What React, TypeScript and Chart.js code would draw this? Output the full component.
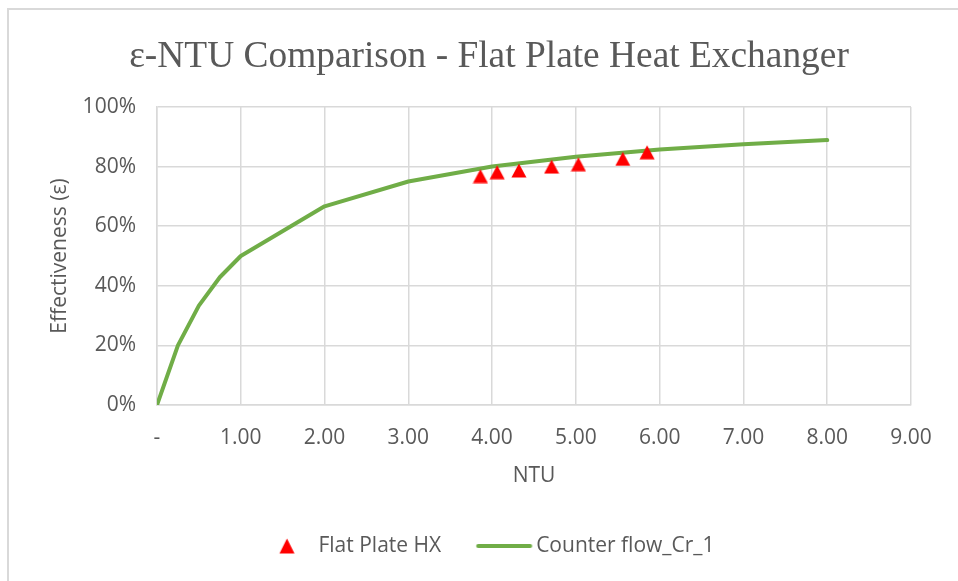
import { useEffect, useRef } from 'react';
import { Chart, registerables } from 'chart.js';

Chart.register(...registerables);

// Measured flat plate heat exchanger points
const plateNtu = [3.86, 4.06, 4.32, 4.71, 5.03, 5.56, 5.85];
const plateEffectiveness = [0.768, 0.781, 0.787, 0.8, 0.808, 0.826, 0.848];

// Counter-flow reference curve for Cr = 1
const counterNtu = [0, 0.25, 0.5, 0.75, 1, 2, 3, 4, 5, 6, 7, 8];
const counterEffectiveness = [0, 0.2, 0.3333, 0.4286, 0.5, 0.6667, 0.75, 0.8, 0.8333, 0.8571, 0.875, 0.8889];

const seriesNames = ['Flat Plate HX', 'Counter flow_Cr_1'];
const chartTitle = 'ε-NTU Comparison - Flat Plate Heat Exchanger';
const xAxisTitle = 'NTU';
const yAxisTitle = 'Effectiveness (ε)';

const xMin = 0;
const xMax = 9;
const xStep = 1;
const yMin = 0;
const yMax = 1;
const yStep = 0.2;

const TEXT = '#595959';
const GRID = '#d9d9d9';
const RED = '#ff0000';
const GREEN = '#70ad47';
const SANS = '"Open Sans", "Liberation Sans", sans-serif';

// Triangle marker painted on its own small canvas; cx sets where the apex sits.
function makeTriangle(w: number, h: number, cx: number): HTMLCanvasElement {
  const c = document.createElement('canvas');
  c.width = w;
  c.height = h;
  const g = c.getContext('2d')!;
  g.fillStyle = RED;
  g.beginPath();
  g.moveTo(cx, 0.5);
  g.lineTo(cx + 7.5, h - 0.5);
  g.lineTo(cx - 7.5, h - 0.5);
  g.closePath();
  g.fill();
  return c;
}

// Short thick line used as the legend swatch of the curve.
function makeLineSwatch(w: number, h: number, cx: number, len: number): HTMLCanvasElement {
  const c = document.createElement('canvas');
  c.width = w;
  c.height = h;
  const g = c.getContext('2d')!;
  g.strokeStyle = GREEN;
  g.lineWidth = 4;
  g.lineCap = 'round';
  g.beginPath();
  g.moveTo(cx - len / 2 + 2, h / 2);
  g.lineTo(cx + len / 2 - 2, h / 2);
  g.stroke();
  return c;
}

export default function App() {
  const canvasRef = useRef<HTMLCanvasElement>(null);

  useEffect(() => {
    const canvas = canvasRef.current;
    if (!canvas) return;

    const marker = makeTriangle(16, 15, 8);
    const legendMarker = makeTriangle(40, 16, 21.25);
    const legendLine = makeLineSwatch(100, 8, 50.75, 56);

    const tickFont = { family: SANS, size: 21 };

    const chart = new Chart(canvas, {
      type: 'scatter',
      data: {
        datasets: [
          {
            label: seriesNames[0],
            data: plateNtu.map((x, i) => ({ x, y: plateEffectiveness[i] })),
            pointStyle: marker,
            pointRadius: 8,
            pointHoverRadius: 8,
            backgroundColor: RED,
            borderColor: RED,
            showLine: false,
          },
          {
            label: seriesNames[1],
            data: counterNtu.map((x, i) => ({ x, y: counterEffectiveness[i] })),
            showLine: true,
            borderColor: GREEN,
            backgroundColor: GREEN,
            borderWidth: 4,
            borderCapStyle: 'round',
            borderJoinStyle: 'round',
            pointRadius: 0,
            pointHoverRadius: 0,
            tension: 0,
          },
        ],
      },
      options: {
        responsive: false,
        animation: false,
        devicePixelRatio: 1,
        layout: { padding: { left: 20, right: 0, top: 0, bottom: 14.5 } },
        plugins: {
          title: {
            display: true,
            text: chartTitle,
            color: TEXT,
            font: { family: '"Liberation Serif", "Times New Roman", serif', size: 37.4, weight: 'normal' },
            padding: { top: 34.5, bottom: 27.6 },
          },
          legend: {
            position: 'bottom',
            labels: {
              usePointStyle: true,
              pointStyleWidth: 44.5,
              boxHeight: 21,
              padding: 40,
              color: TEXT,
              font: { family: SANS, size: 21 },
              generateLabels: () => [
                {
                  text: seriesNames[0],
                  pointStyle: legendMarker,
                  fillStyle: RED,
                  strokeStyle: RED,
                  lineWidth: 0,
                  fontColor: TEXT,
                  hidden: false,
                  datasetIndex: 0,
                },
                {
                  text: seriesNames[1],
                  pointStyle: legendLine,
                  fillStyle: GREEN,
                  strokeStyle: GREEN,
                  lineWidth: 0,
                  fontColor: TEXT,
                  hidden: false,
                  datasetIndex: 1,
                },
              ],
            },
          },
          tooltip: { enabled: false },
        },
        scales: {
          x: {
            type: 'linear',
            min: xMin,
            max: xMax,
            afterFit: (s: any) => {
              s.height = 90.5;
            },
            grid: { color: GRID, lineWidth: 1.5, drawTicks: false },
            border: { color: GRID, width: 1.5 },
            ticks: {
              stepSize: xStep,
              padding: 20,
              color: TEXT,
              font: tickFont,
              maxRotation: 0,
              callback: (v: any) => (Number(v) === 0 ? '-' : Number(v).toFixed(2)),
            },
            title: {
              display: true,
              text: xAxisTitle,
              color: TEXT,
              font: tickFont,
              padding: { top: 0, bottom: 7 },
            },
          },
          y: {
            type: 'linear',
            min: yMin,
            max: yMax,
            afterFit: (s: any) => {
              s.width = 137;
            },
            grid: { color: GRID, lineWidth: 1.5, drawTicks: false },
            border: { color: GRID, width: 1.5 },
            ticks: {
              stepSize: yStep,
              padding: 21,
              color: TEXT,
              font: tickFont,
              callback: (v: any) => `${Math.round(Number(v) * 100)}%`,
            },
            title: {
              display: true,
              text: yAxisTitle,
              color: TEXT,
              font: tickFont,
              padding: { top: 27, bottom: 0 },
            },
          },
          rightGap: {
            type: 'linear',
            axis: 'y',
            position: 'right',
            display: true,
            grid: { display: false },
            border: { display: false },
            ticks: { display: false },
            afterFit: (s: any) => {
              s.width = 47;
            },
          },
        },
      },
    } as any);

    return () => chart.destroy();
  }, []);

  return (
    <>
      <div style={{ position: 'fixed', left: 0, top: 0, width: 958, height: 581, background: '#ffffff' }}>
        <canvas ref={canvasRef} width={958} height={581} style={{ display: 'block', width: 958, height: 581 }} />
      </div>
      <div
        style={{
          position: 'fixed',
          left: 7,
          top: 8,
          width: 951,
          height: 573,
          borderTop: '2px solid #d9d9d9',
          borderLeft: '2px solid #d9d9d9',
          pointerEvents: 'none',
        }}
      />
    </>
  );
}
